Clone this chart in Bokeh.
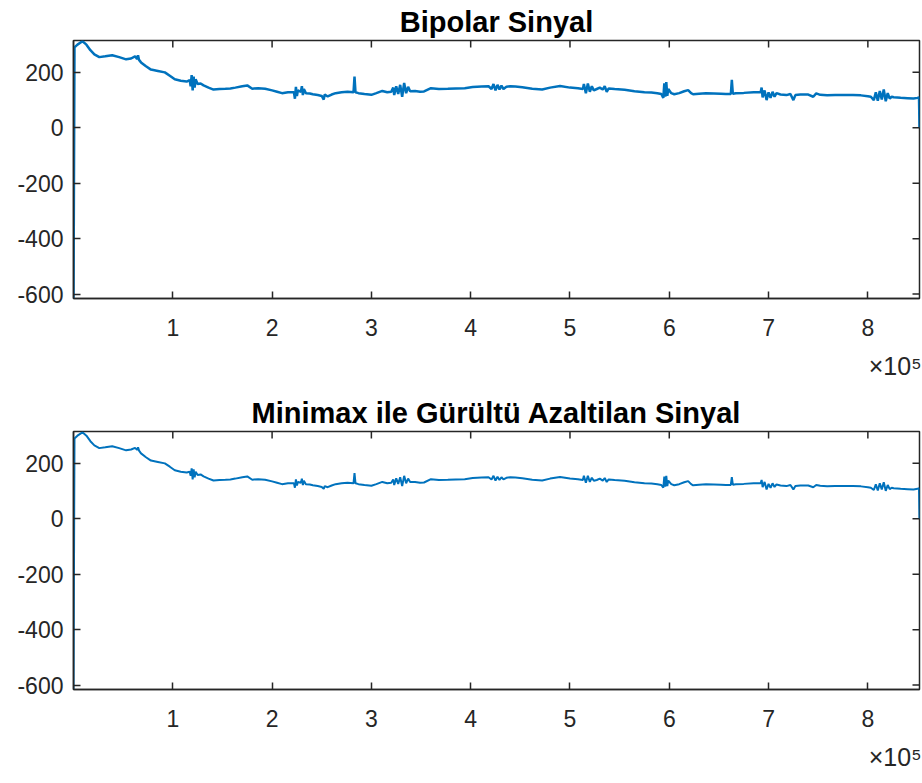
from bokeh.plotting import figure
from bokeh.layouts import column
from bokeh.models import FixedTicker, Range1d, Title, ColumnDataSource
from bokeh.embed import file_html
from bokeh.resources import INLINE

titles = ["Bipolar Sinyal", "Minimax ile Gürültü Azaltilan Sinyal"]
x_ticks = [100000, 200000, 300000, 400000, 500000, 600000, 700000, 800000]
x_tick_labels = ["1", "2", "3", "4", "5", "6", "7", "8"]
y_ticks = [-600, -400, -200, 0, 200]
y_tick_labels = ["-600", "-400", "-200", "0", "200"]
x_limits = [0, 852000]
y_limits = [-616, 315]
exponent_label = "×10⁵"

samples = [
    0, 1000, 4000, 9000, 13000, 17000, 21000, 26000, 32000, 39000,
    46000, 53000, 58000, 62000, 64000, 65000, 66000, 68000, 73000, 78000,
    85000, 92000, 97000, 102000, 108000, 114000, 117000, 118000, 119000, 120000,
    121000, 122000, 123000, 125000, 128000, 131000, 136000, 141000, 147000, 153000,
    158000, 163000, 170000, 175000, 180000, 186000, 193000, 200000, 205000, 210000,
    216000, 222000, 223000, 224000, 225000, 226000, 229000, 230000, 231000, 232000,
    234000, 238000, 241000, 246000, 250000, 252000, 253000, 256000, 260000, 264000,
    270000, 276000, 282000, 283000, 284000, 287000, 293000, 300000, 305000, 311000,
    316000, 320000, 322000, 323000, 325000, 327000, 329000, 331000, 333000, 335000,
    337000, 339000, 344000, 349000, 353000, 360000, 368000, 377000, 385000, 394000,
    402000, 411000, 418000, 421000, 423000, 425000, 427000, 429000, 431000, 433000,
    436000, 440000, 445000, 452000, 462000, 472000, 480000, 490000, 500000, 508000,
    513000, 514000, 516000, 518000, 520000, 522000, 524000, 527000, 530000, 533000,
    535000, 537000, 539000, 545000, 555000, 565000, 575000, 582000, 588000, 592000,
    594000, 595000, 596000, 597000, 598000, 599000, 602000, 605000, 610000, 615000,
    619000, 622000, 624000, 630000, 637000, 645000, 652000, 657000, 662000, 663000,
    664000, 667000, 675000, 685000, 692000, 693000, 694000, 696000, 698000, 700000,
    702000, 704000, 706000, 708000, 712000, 718000, 722000, 725000, 727000, 732000,
    740000, 745000, 748000, 752000, 759000, 767000, 776000, 785000, 793000, 800000,
    803000, 806000, 808000, 810000, 812000, 814000, 816000, 818000, 820000, 822000,
    824000, 826000, 833000, 840000, 846000, 850000, 851500, 852000,
]

bipolar = [
    -616, 290, 300, 312, 300, 280, 265, 255, 258, 262,
    255, 247, 250, 258, 248, 262, 245, 236, 222, 210,
    205, 200, 188, 175, 170, 167, 172, 150, 190, 135,
    185, 145, 175, 158, 160, 153, 145, 138, 140, 141,
    142, 145, 150, 153, 141, 143, 141, 135, 130, 125,
    128, 128, 105, 148, 115, 135, 130, 150, 118, 140,
    125, 124, 121, 118, 115, 102, 120, 113, 120, 125,
    128, 130, 128, 185, 128, 125, 122, 119, 125, 133,
    128, 130, 145, 118, 150, 122, 155, 112, 162, 125,
    148, 132, 133, 130, 131, 143, 140, 141, 142, 143,
    147, 149, 150, 140, 158, 135, 155, 138, 152, 140,
    148, 150, 149, 146, 141, 138, 145, 151, 145, 143,
    140, 158, 125, 160, 130, 150, 135, 140, 145, 138,
    150, 130, 142, 140, 137, 132, 128, 127, 125, 122,
    108, 160, 112, 165, 115, 140, 125, 121, 125, 132,
    136, 125, 121, 123, 125, 124, 123, 122, 122, 173,
    123, 125, 126, 128, 128, 145, 110, 135, 100, 128,
    108, 130, 112, 125, 120, 118, 122, 100, 118, 120,
    120, 112, 124, 119, 117, 118, 118, 118, 117, 114,
    112, 100, 128, 98, 133, 102, 138, 96, 125, 105,
    112, 110, 108, 107, 106, 108, 110, 0,
]

minimax = [
    -616, 290, 300, 312, 300, 280, 265, 255, 258, 262,
    255, 247, 250, 256, 249, 258, 246, 236, 222, 210,
    205, 200, 188, 175, 170, 167, 170, 155, 182, 142,
    178, 150, 170, 158, 160, 153, 145, 138, 140, 141,
    142, 145, 150, 153, 141, 143, 141, 135, 130, 125,
    128, 128, 112, 142, 120, 133, 130, 145, 122, 137,
    125, 124, 121, 118, 115, 108, 118, 114, 120, 125,
    128, 130, 128, 165, 128, 125, 122, 119, 125, 133,
    128, 130, 142, 122, 146, 126, 150, 118, 155, 128,
    145, 133, 133, 130, 131, 143, 140, 141, 142, 143,
    147, 149, 150, 142, 155, 138, 152, 140, 150, 142,
    148, 150, 149, 146, 141, 138, 145, 151, 145, 143,
    140, 155, 130, 155, 133, 148, 137, 140, 145, 138,
    147, 133, 142, 140, 137, 132, 128, 127, 125, 122,
    112, 152, 116, 155, 118, 138, 125, 121, 125, 132,
    136, 125, 121, 123, 125, 124, 123, 122, 122, 150,
    123, 125, 126, 128, 128, 140, 114, 133, 106, 126,
    112, 128, 115, 124, 120, 118, 122, 106, 118, 120,
    120, 114, 122, 119, 117, 118, 118, 118, 117, 114,
    112, 104, 124, 102, 128, 106, 132, 101, 122, 107,
    112, 110, 108, 107, 106, 108, 110, 0,
]

FONT = "Liberation Sans"
AXIS_COLOR = "#262626"
LINE_COLOR = "#0072BD"
FRAME_W = 846
FRAME_H = 258
TICK_PX = 7


def style_axis(ax, standoff):
    ax.axis_line_color = AXIS_COLOR
    ax.axis_line_width = 1.5
    ax.major_tick_line_color = AXIS_COLOR
    ax.major_tick_line_width = 1.5
    ax.major_tick_in = TICK_PX
    ax.major_tick_out = 0
    ax.minor_tick_line_color = None
    ax.major_label_text_font = FONT
    ax.major_label_text_color = AXIS_COLOR
    ax.major_label_text_font_size = "23px"
    ax.major_label_standoff = standoff


def make_panel(title_text, yvals, lw, height):
    p = figure(width=922, height=height,
               x_range=Range1d(x_limits[0], x_limits[1]),
               y_range=Range1d(y_limits[0], y_limits[1]),
               output_backend="svg", toolbar_location=None,
               min_border_left=73, min_border_right=3,
               min_border_top=40, min_border_bottom=height - 40 - FRAME_H)
    p.outline_line_color = AXIS_COLOR
    p.outline_line_width = 1.5
    p.background_fill_color = "white"
    p.border_fill_color = "white"
    p.xgrid.visible = False
    p.ygrid.visible = False

    p.title.text = title_text
    p.title.align = "center"
    p.title.text_font = FONT
    p.title.text_font_size = "29px"
    p.title.text_font_style = "bold"
    p.title.text_color = "black"
    p.title.standoff = 5

    src = ColumnDataSource(dict(x=samples, y=yvals))
    p.line("x", "y", source=src, color=LINE_COLOR, line_width=lw)

    xa = p.xaxis[0]
    xa.ticker = FixedTicker(ticks=x_ticks)
    xa.major_label_overrides = {t: l for t, l in zip(x_ticks, x_tick_labels)}
    style_axis(xa, 20)
    ya = p.yaxis[0]
    ya.ticker = FixedTicker(ticks=y_ticks)
    ya.major_label_overrides = {t: l for t, l in zip(y_ticks, y_tick_labels)}
    style_axis(ya, 10)

    # mirrored inward ticks on the top and right edges of the box
    y_span = y_limits[1] - y_limits[0]
    x_span = x_limits[1] - x_limits[0]
    dy = TICK_PX * y_span / FRAME_H
    dx = TICK_PX * x_span / FRAME_W
    p.segment(x0=x_ticks, x1=x_ticks,
              y0=[y_limits[1]] * len(x_ticks), y1=[y_limits[1] - dy] * len(x_ticks),
              line_color=AXIS_COLOR, line_width=1.5)
    p.segment(x0=[x_limits[1]] * len(y_ticks), x1=[x_limits[1] - dx] * len(y_ticks),
              y0=y_ticks, y1=y_ticks,
              line_color=AXIS_COLOR, line_width=1.5)

    exp = Title(text=exponent_label, align="right", text_font=FONT,
                text_font_size="25px", text_font_style="normal",
                text_color=AXIS_COLOR, standoff=22, offset=-2)
    p.add_layout(exp, "below")
    return p


p1 = make_panel(titles[0], bipolar, 2.5, 391)
p2 = make_panel(titles[1], minimax, 2.0, 392)
layout = column(p1, p2, spacing=0)

open("out.html", "w").write(file_html(layout, INLINE))
